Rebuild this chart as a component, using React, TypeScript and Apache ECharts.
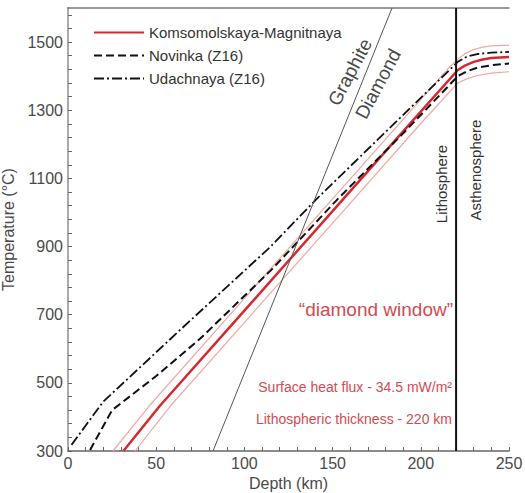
import React, { useEffect, useRef } from "react";
import * as echarts from "echarts";

const depthLabels = [0, 50, 100, 150, 200, 250];
const depthTicks = [0, 10, 20, 30, 40, 50, 60, 70, 80, 90, 100, 110, 120, 130, 140, 150, 160, 170, 180, 190, 200, 210, 220, 230, 240, 250];
const tempLabels = [300, 500, 700, 900, 1100, 1300, 1500];
const tempTicks = [300, 340, 380, 420, 460, 500, 540, 580, 620, 660, 700, 740, 780, 820, 860, 900, 940, 980, 1020, 1060, 1100, 1140, 1180, 1220, 1260, 1300, 1340, 1380, 1420, 1460, 1500, 1540, 1580];

// [depth km, temperature °C]
const komsomolskaya = [[31.4, 300], [52, 432], [100, 712], [150, 1004], [190, 1238], [221, 1418], [225, 1431], [230, 1442], [235, 1449], [240, 1453], [250, 1456]];
const komsUpper = [[25.5, 300], [46, 432], [100, 748], [150, 1040], [200, 1332], [216, 1425], [221, 1450], [225, 1466], [230, 1478], [235, 1485], [240, 1489], [250, 1491]];
const komsLower = [[38, 300], [58, 432], [100, 677], [150, 969], [200, 1261], [221, 1380], [226, 1392], [232, 1402], [240, 1409], [250, 1413]];
const novinka = [[12.5, 303], [25, 420], [50, 520], [75, 630], [115, 830], [153, 1040], [190, 1232], [221, 1400], [226, 1414], [232, 1425], [240, 1432], [250, 1437]];
const udachnaya = [[2, 318], [20, 445], [63.5, 655], [114.5, 898], [141, 1040], [221, 1442], [226, 1457], [232, 1465], [240, 1469], [250, 1471]];
const graphiteDiamond = [[82.2, 300], [183.7, 1600]];
const lithosphereBase = [[220, 300], [220, 1600]];

const FONT = "'Liberation Sans', Arial, Helvetica, sans-serif";
const RED = "#d8282f";
const PINK = "#f2a8a2";
const TEXT_RED = "#d24b52";
const GREY_TEXT = "#4a4a4a";

export default function App() {
  const ref = useRef<HTMLDivElement>(null);
  useEffect(() => {
    if (!ref.current) return;
    const chart = echarts.init(ref.current, undefined, { renderer: "svg" });
    chart.setOption({
      animation: false,
      backgroundColor: "#ffffff",
      textStyle: { fontFamily: FONT },
      grid: { left: 68, right: 16, top: 8, bottom: 42, outerBoundsMode: "none", containLabel: false },
      legend: {
        orient: "vertical",
        left: 88,
        top: 20,
        itemWidth: 50,
        itemHeight: 14,
        itemGap: 8,
        itemStyle: { opacity: 0 },
        textStyle: { fontSize: 15, color: "#333", fontFamily: FONT },
        data: ["Komsomolskaya-Magnitnaya", "Novinka (Z16)", "Udachnaya (Z16)"],
      },
      xAxis: [
        {
          type: "value",
          min: 0,
          max: 250,
          name: "Depth (km)",
          nameLocation: "middle",
          nameGap: 24,
          nameTextStyle: { fontSize: 16, color: GREY_TEXT, fontFamily: FONT },
          axisLine: { show: true, lineStyle: { color: "#666", width: 1.5 } },
          axisTick: { show: true, inside: true, length: 4, customValues: depthTicks, lineStyle: { color: "#666" } },
          axisLabel: { customValues: depthLabels, fontSize: 16, color: GREY_TEXT, margin: 4, fontFamily: FONT, formatter: (v: number) => String(v) },
          splitLine: { show: false },
        },
        {
          type: "value",
          position: "top",
          min: 0,
          max: 250,
          axisLine: { show: true, lineStyle: { color: "#777", width: 1.5 } },
          axisTick: { show: false },
          axisLabel: { show: false },
          splitLine: { show: false },
        },
      ],
      yAxis: [
        {
          type: "value",
          min: 300,
          max: 1600,
          name: "Temperature (°C)",
          nameLocation: "middle",
          nameGap: 44,
          nameTextStyle: { fontSize: 16, color: GREY_TEXT, fontFamily: FONT },
          axisLine: { show: true, lineStyle: { color: "#666", width: 1.5 } },
          axisTick: { show: true, inside: true, length: 4, customValues: tempTicks, lineStyle: { color: "#666" } },
          axisLabel: { customValues: tempLabels, fontSize: 16, color: GREY_TEXT, margin: 5, fontFamily: FONT, formatter: (v: number) => String(v) },
          splitLine: { show: false },
        },
        {
          type: "value",
          position: "right",
          min: 300,
          max: 1600,
          axisLine: { show: true, lineStyle: { color: "#aaa", width: 2 } },
          axisTick: { show: false },
          axisLabel: { show: false },
          splitLine: { show: false },
        },
      ],
      series: [
        {
          name: "Kom upper",
          type: "line",
          data: komsUpper,
          symbol: "none",
          lineStyle: { color: PINK, width: 1.2 },
          z: 2,
        },
        {
          name: "Kom lower",
          type: "line",
          data: komsLower,
          symbol: "none",
          lineStyle: { color: PINK, width: 1.2 },
          z: 2,
        },
        {
          name: "Komsomolskaya-Magnitnaya",
          type: "line",
          data: komsomolskaya,
          symbol: "none",
          color: RED,
          lineStyle: { color: RED, width: 2.5 },
          z: 3,
        },
        {
          name: "Novinka (Z16)",
          type: "line",
          data: novinka,
          symbol: "none",
          color: "#111",
          lineStyle: { color: "#111", width: 2, type: [8, 4] },
          z: 4,
        },
        {
          name: "Udachnaya (Z16)",
          type: "line",
          data: udachnaya,
          symbol: "none",
          color: "#111",
          lineStyle: { color: "#111", width: 1.8, type: [10, 3, 2, 3] },
          z: 4,
        },
        {
          name: "Graphite-Diamond",
          type: "line",
          data: graphiteDiamond,
          symbol: "none",
          lineStyle: { color: "#555", width: 1 },
          z: 5,
        },
        {
          name: "LAB",
          type: "line",
          data: lithosphereBase,
          symbol: "none",
          lineStyle: { color: "#111", width: 2 },
          z: 6,
        },
      ],
      graphic: [
        {
          type: "text",
          x: 350,
          y: 72,
          rotation: (62 * Math.PI) / 180,
          style: { text: "Graphite", fontSize: 19, fill: GREY_TEXT, fontFamily: FONT, textAlign: "center", textVerticalAlign: "middle" },
        },
        {
          type: "text",
          x: 378,
          y: 84,
          rotation: (62 * Math.PI) / 180,
          style: { text: "Diamond", fontSize: 19, fill: GREY_TEXT, fontFamily: FONT, textAlign: "center", textVerticalAlign: "middle" },
        },
        {
          type: "text",
          x: 441,
          y: 184,
          rotation: Math.PI / 2,
          style: { text: "Lithosphere", fontSize: 15, fill: "#333", fontFamily: FONT, textAlign: "center", textVerticalAlign: "middle" },
        },
        {
          type: "text",
          x: 475,
          y: 170,
          rotation: Math.PI / 2,
          style: { text: "Asthenosphere", fontSize: 15, fill: "#333", fontFamily: FONT, textAlign: "center", textVerticalAlign: "middle" },
        },
        {
          type: "text",
          x: 453,
          y: 309,
          style: { text: "\u201cdiamond window\u201d", fontSize: 19, fill: TEXT_RED, fontFamily: FONT, textAlign: "right", textVerticalAlign: "middle" },
        },
        {
          type: "text",
          x: 452,
          y: 387,
          style: { text: "Surface heat flux - 34.5 mW/m\u00b2", fontSize: 14, fill: TEXT_RED, fontFamily: FONT, textAlign: "right", textVerticalAlign: "middle" },
        },
        {
          type: "text",
          x: 452,
          y: 419,
          style: { text: "Lithospheric thickness - 220 km", fontSize: 14, fill: TEXT_RED, fontFamily: FONT, textAlign: "right", textVerticalAlign: "middle" },
        },
      ],
    });
    return () => chart.dispose();
  }, []);
  return <div ref={ref} style={{ position: "fixed", left: 0, top: 0, width: 525, height: 493 }} />;
}
